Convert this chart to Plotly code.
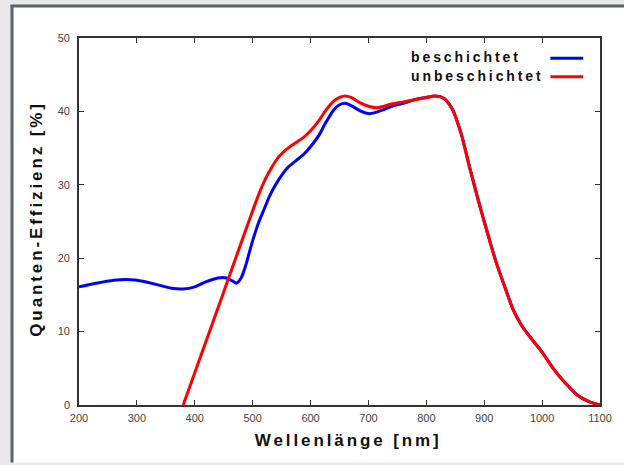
import plotly.graph_objects as go

# ---- data ----
wl_blue = [200, 230, 260, 280, 300, 330, 360, 380, 400, 420, 440, 455, 465, 472, 480, 488,
           495, 502, 510, 520, 530, 545, 560, 575, 590, 605, 615, 625, 640, 650, 660, 670,
           685, 700, 710, 725, 740, 760, 780, 800, 815, 830, 845, 860, 875, 890, 905, 920,
           935, 950, 965, 980, 1000, 1020, 1040, 1060, 1080, 1100]
qe_blue = [16.1, 16.6, 17.0, 17.1, 17.0, 16.5, 15.9, 15.8, 16.1, 16.8, 17.3, 17.3, 16.9, 16.6,
           17.3, 19.0, 21.0, 22.9, 24.8, 26.7, 28.6, 30.7, 32.3, 33.3, 34.3, 35.7, 36.8, 38.3,
           40.2, 40.9, 41.1, 40.8, 40.1, 39.7, 39.8, 40.2, 40.7, 41.1, 41.6, 41.9, 42.1, 41.8,
           40.3, 37.0, 32.3, 27.8, 23.6, 19.6, 16.2, 13.0, 10.8, 9.2, 7.2, 4.9, 3.0, 1.4, 0.5, 0.0]

wl_red = [380, 450, 510, 522, 533, 545, 556, 570, 590, 605, 615, 625, 640, 650, 660, 670,
          685, 700, 715, 740, 760, 780, 800, 815, 830, 845, 860, 875, 890, 905, 920, 935,
          950, 965, 980, 1000, 1020, 1040, 1060, 1080, 1100]
qe_red = [0.0, 15.4, 28.6, 30.8, 32.4, 33.8, 34.7, 35.5, 36.6, 37.8, 38.8, 40.0, 41.4, 41.9,
          42.1, 41.9, 41.2, 40.7, 40.5, 41.0, 41.3, 41.6, 41.9, 42.1, 41.8, 40.3, 37.0, 32.3,
          27.8, 23.6, 19.6, 16.2, 13.0, 10.8, 9.2, 7.2, 4.9, 3.0, 1.4, 0.5, 0.0]

series_names = ["beschichtet", "unbeschichtet"]
series_colors = ["#0000ff", "#ff0000"]
x_ticks = [200, 300, 400, 500, 600, 700, 800, 900, 1000, 1100]
y_ticks = [0, 10, 20, 30, 40, 50]
x_title = "Wellenlänge [nm]"
y_title = "Quanten-Effizienz [%]"

# ---- layout geometry (pixels) ----
W, H = 624, 465
L, R, T, B = 79, 20, 38, 60
PW, PH = W - L - R, H - T - B


def px(xp):
    return (xp - L) / PW


def py(yp):
    return (H - B - yp) / PH


fig = go.Figure()
fig.add_trace(go.Scatter(x=wl_blue, y=qe_blue, mode="lines", name=series_names[0],
                         line=dict(color=series_colors[0], width=3, shape="spline", smoothing=0.8)))
fig.add_trace(go.Scatter(x=wl_red, y=qe_red, mode="lines", name=series_names[1],
                         line=dict(color=series_colors[1], width=3, shape="spline", smoothing=0.8)))

shapes = [
    # white panel
    dict(type="rect", xref="paper", yref="paper", x0=px(12), x1=px(640), y0=py(462.5), y1=py(5.5),
         fillcolor="white", line=dict(width=0), layer="below"),
    # panel border left and top
    dict(type="line", xref="paper", yref="paper", x0=px(11.5), x1=px(11.5), y0=py(462.5), y1=py(5),
         line=dict(color="#5a6266", width=3)),
    dict(type="line", xref="paper", yref="paper", x0=px(10), x1=px(640), y0=py(6), y1=py(6),
         line=dict(color="#5a6266", width=3)),
]
# legend sample lines (right of text)
for i, c in enumerate(series_colors):
    yy = 58.3 + 18.4 * i
    shapes.append(dict(type="line", xref="paper", yref="paper", x0=px(554), x1=px(587),
                       y0=py(yy), y1=py(yy), line=dict(color=c, width=3)))

annotations = [
    dict(text=x_title, xref="paper", yref="paper", x=px(350), y=py(440), xanchor="center",
         yanchor="middle", showarrow=False,
         font=dict(family="Liberation Sans", size=17, color="#111", weight="bold")),
    dict(text=y_title, xref="paper", yref="paper", x=px(37), y=py(219), xanchor="center",
         yanchor="middle", showarrow=False, textangle=-90,
         font=dict(family="Liberation Sans", size=17, color="#111", weight="bold")),
]
for i, n in enumerate(series_names):
    annotations.append(dict(text=n, xref="paper", yref="paper", x=px(412), y=py(57.5 + 18.4 * i),
                            xanchor="left", yanchor="middle", align="left", showarrow=False,
                            font=dict(family="Liberation Sans", size=14, color="#111", weight="bold")))

axis_common = dict(showgrid=False, zeroline=False, showline=True, linecolor="#333", linewidth=1.6,
                   mirror="ticks", ticks="inside", ticklen=5, tickwidth=1.2, tickcolor="#333",
                   tickfont=dict(family="Liberation Sans", size=11, color="#444"))

fig.update_layout(
    width=W, height=H,
    margin=dict(l=L, r=R, t=T, b=B),
    paper_bgcolor="#e9e9e9",
    plot_bgcolor="white",
    showlegend=False,
    shapes=shapes,
    annotations=annotations,
    xaxis=dict(range=[200, 1100], tickvals=x_ticks, ticklabelstandoff=2, **axis_common),
    yaxis=dict(range=[0, 50], tickvals=y_ticks, ticklabelstandoff=5, **axis_common),
)

post = """
var s = document.createElement('style');
s.textContent = 'html,body{margin:0;padding:0;overflow:hidden;} .annotation-text{letter-spacing:2.9px;}';
document.head.appendChild(s);
"""
fig.write_html("out.html", post_script=post, config={"displayModeBar": False})
